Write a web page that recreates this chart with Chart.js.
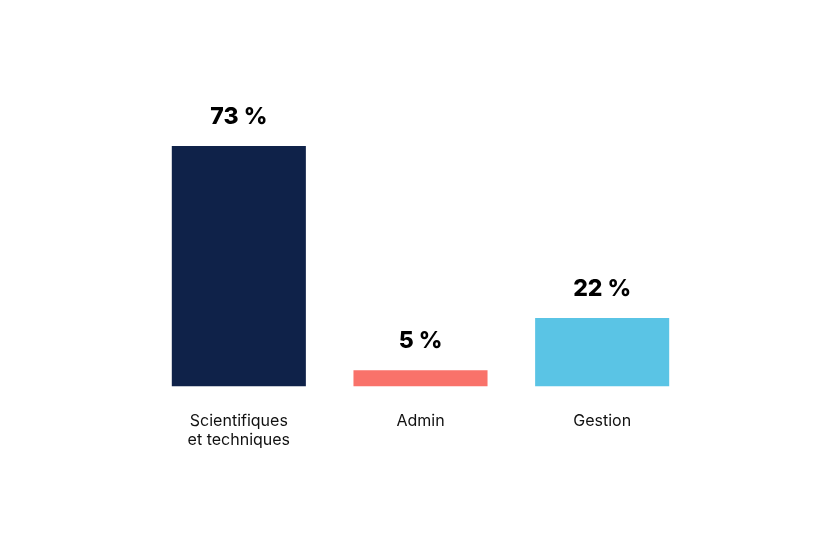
<!DOCTYPE html>
<html>
<head>
<meta charset="utf-8">
<script src="https://cdn.jsdelivr.net/npm/chart.js@4.4.1/dist/chart.umd.min.js"></script>
<style>
html,body{margin:0;padding:0;background:#fff;}
#wrap{width:840px;height:549px;}
</style>
</head>
<body>
<div id="wrap"><canvas id="c"></canvas></div>
<script>
const categories = [['Scientifiques','et techniques'], 'Admin', 'Gestion'];
const barValues = [73, 5, 20.8];
const valueLabels = ['73 %', '5 %', '22 %'];
const barColors = ['#0f2249', '#f9726a', '#5ac4e5'];

const labelPlugin = {
  id: 'valueLabels',
  afterDatasetsDraw(chart) {
    const ctx = chart.ctx;
    const meta = chart.getDatasetMeta(0);
    ctx.save();
    ctx.font = '800 23px Inter, "Noto Sans", sans-serif';
    ctx.fillStyle = '#000';
    ctx.textAlign = 'center';
    ctx.textBaseline = 'alphabetic';
    meta.data.forEach((bar, i) => {
      ctx.fillText(valueLabels[i], bar.x, bar.y - 22);
    });
    ctx.restore();
  }
};

new Chart(document.getElementById('c'), {
  type: 'bar',
  data: {
    labels: categories,
    datasets: [{
      data: barValues,
      backgroundColor: barColors,
      borderWidth: 0,
      barPercentage: 0.738,
      categoryPercentage: 1.0
    }]
  },
  options: {
    responsive: true,
    maintainAspectRatio: false,
    animation: false,
    layout: { padding: { left: 148, right: 147, top: 123, bottom: 74 } },
    plugins: { legend: { display: false }, tooltip: { enabled: false } },
    scales: {
      x: {
        grid: { display: false, drawTicks: false },
        border: { display: false },
        ticks: {
          color: '#111',
          padding: 25,
          maxRotation: 0,
          font: { family: 'Inter, "Noto Sans", sans-serif', size: 16, lineHeight: 1.2 }
        }
      },
      y: {
        display: false,
        min: 0,
        max: 80
      }
    }
  },
  plugins: [labelPlugin]
});
</script>
</body>
</html>
